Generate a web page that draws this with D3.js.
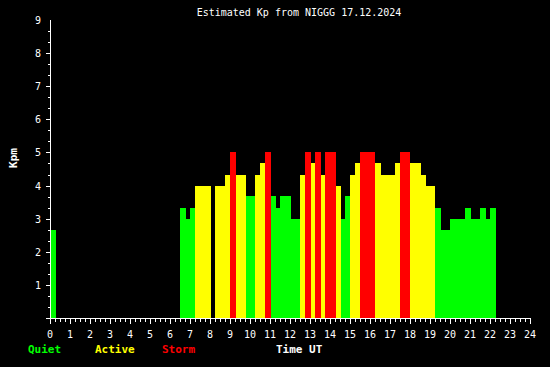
<!DOCTYPE html>
<html><head><meta charset="utf-8">
<script src="https://cdn.jsdelivr.net/npm/d3@7"></script>
<style>html,body{margin:0;padding:0;background:#000;}svg{display:block;}</style>
</head><body>
<script>
const title = "Estimated Kp from NIGGG 17.12.2024";
const barStart = [0, 6.5, 6.8, 7.0, 7.25, 8.25, 8.75, 9.0, 9.3, 9.8, 10.25, 10.5, 10.75, 11.05, 11.3, 11.5, 12.05, 12.5, 12.75, 13.05, 13.25, 13.55, 13.75, 14.3, 14.55, 14.75, 15.0, 15.25, 15.5, 16.25, 16.55, 17.25, 17.5, 18.0, 18.55, 18.8, 19.25, 19.55, 20.0, 20.75, 21.05, 21.5, 21.8, 22.0];
const barEnd   = [0.3, 6.8, 7.0, 7.25, 8.05, 8.75, 9.0, 9.3, 9.8, 10.25, 10.5, 10.75, 11.05, 11.3, 11.5, 12.05, 12.5, 12.75, 13.05, 13.25, 13.55, 13.75, 14.3, 14.55, 14.75, 15.0, 15.25, 15.5, 16.25, 16.55, 17.25, 17.5, 18.0, 18.55, 18.8, 19.25, 19.55, 20.0, 20.75, 21.05, 21.5, 21.8, 22.0, 22.3];
const kpValues = [2.67, 3.33, 3, 3.33, 4, 4, 4.33, 5, 4.33, 3.67, 4.33, 4.67, 5, 3.67, 3.33, 3.67, 3, 4.33, 5, 4.67, 5, 4.33, 5, 4, 3, 3.67, 4.33, 4.67, 5, 4.67, 4.33, 4.67, 5, 4.67, 4.33, 4, 3.33, 2.67, 3, 3.33, 3, 3.33, 3, 3.33];
const xTicks = d3.range(0, 25);
const yTicks = d3.range(1, 10);
const legendItems = ["Quiet", "Active", "Storm"];
const legendColors = ["#00ff00", "#ffff00", "#ff0000"];

const W = 550, H = 367;
const svg = d3.select("body").append("svg").attr("width", W).attr("height", H)
  .style("background", "#000");
svg.append("rect").attr("width", W).attr("height", H).attr("fill", "#000");

const x = d3.scaleLinear().domain([0, 24]).range([50, 530]);
const y = d3.scaleLinear().domain([0, 9]).range([318, 20]);

const color = v => v >= 5 ? legendColors[2] : (v >= 4 ? legendColors[1] : legendColors[0]);

const data = kpValues.map((v, i) => ({s: barStart[i], e: barEnd[i], v}));
svg.append("g").attr("shape-rendering", "crispEdges").selectAll("rect").data(data).join("rect")
  .attr("x", d => Math.round(x(d.s)))
  .attr("width", d => Math.round(x(d.e)) - Math.round(x(d.s)))
  .attr("y", d => Math.round(y(d.v)))
  .attr("height", d => 318 - Math.round(y(d.v)))
  .attr("fill", d => color(d.v));

const font = "'DejaVu Sans Mono', monospace";

// X axis
const xAxisG = svg.append("g").attr("transform", "translate(0,318.5)");
xAxisG.call(d3.axisBottom(x).tickValues(d3.range(0, 24.01, 0.25)).tickSize(3).tickFormat(""));
xAxisG.call(g => g.selectAll(".tick line").attr("stroke", "#fff").attr("shape-rendering", "crispEdges")
  .attr("y2", d => Math.abs(d - Math.round(d)) < 1e-6 ? 5 : 3));
xAxisG.select(".domain").remove();
xAxisG.append("line").attr("x1", 50).attr("x2", 530.5).attr("stroke", "#fff").attr("shape-rendering", "crispEdges");
svg.append("g").selectAll("text").data(xTicks).join("text")
  .attr("x", d => x(d)).attr("y", 338).attr("text-anchor", "middle")
  .attr("fill", "#fff").attr("font-family", font).attr("font-size", 10).text(d => d);

// Y axis
const yAxisG = svg.append("g").attr("transform", "translate(50.5,0)");
yAxisG.call(d3.axisLeft(y).tickValues(d3.range(0, 27).map(i => i / 3)).tickFormat(""));
yAxisG.call(g => g.selectAll(".tick line").attr("stroke", "#fff").attr("shape-rendering", "crispEdges")
  .attr("x2", (d, i) => i % 3 === 0 ? -5 : -3));
yAxisG.select(".domain").remove();
yAxisG.append("line").attr("y1", 20).attr("y2", 318).attr("stroke", "#fff").attr("shape-rendering", "crispEdges");
svg.append("g").selectAll("text").data(yTicks).join("text")
  .attr("x", 41).attr("y", d => y(d) + 4).attr("text-anchor", "end")
  .attr("fill", "#fff").attr("font-family", font).attr("font-size", 10).text(d => d);

// Title
svg.append("text").attr("x", 299).attr("y", 16).attr("text-anchor", "middle")
  .attr("fill", "#fff").attr("font-family", font).attr("font-size", 10).text(title);

// Y label
svg.append("text").attr("transform", "translate(17,158) rotate(-90)").attr("text-anchor", "middle")
  .attr("fill", "#fff").attr("font-family", font).attr("font-size", 11).attr("font-weight", "bold").text("Kpm");

// Legend
const legendX = [28, 95, 162];
svg.append("g").selectAll("text").data(legendItems).join("text")
  .attr("x", (d, i) => legendX[i]).attr("y", 353)
  .attr("fill", (d, i) => legendColors[i]).attr("font-family", font).attr("font-size", 11).attr("font-weight", "bold").text(d => d);
svg.append("text").attr("x", 276).attr("y", 353)
  .attr("fill", "#fff").attr("font-family", font).attr("font-size", 11).attr("font-weight", "bold").text("Time UT");
</script>
</body></html>
